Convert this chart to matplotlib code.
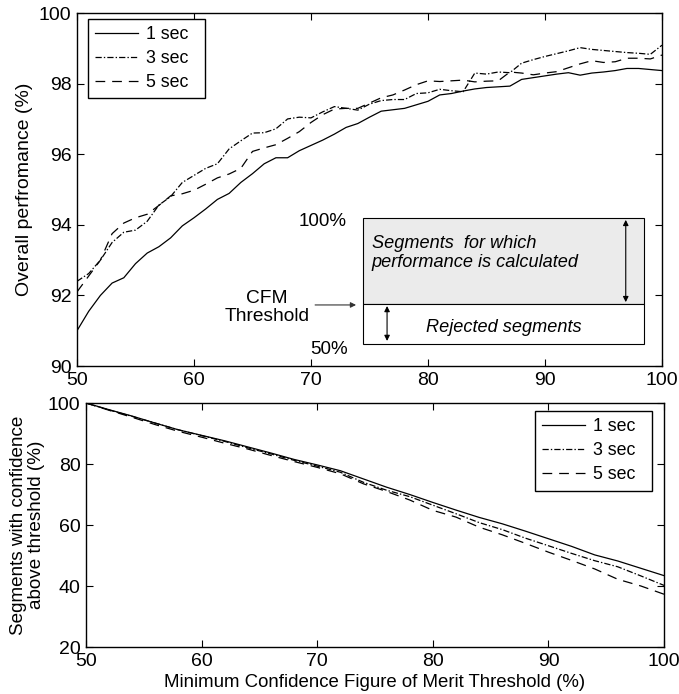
import numpy as np
import matplotlib
matplotlib.use("Agg")
import matplotlib.pyplot as plt

plt.rcParams['font.family'] = ['Liberation Sans', 'DejaVu Sans']
plt.rcParams['font.size'] = 13
plt.rcParams['lines.scale_dashes'] = False

# ---- top panel: overall performance vs CFM threshold
thr_top = np.arange(50, 101, 1)
perf_1s = [91.0, 91.55, 92.0, 92.35, 92.5, 92.9, 93.2, 93.38, 93.63, 93.97,
           94.2, 94.45, 94.72, 94.89, 95.2, 95.45, 95.73, 95.9, 95.9, 96.1,
           96.25, 96.4, 96.57, 96.76, 96.87, 97.05, 97.22, 97.26, 97.3, 97.4,
           97.5, 97.68, 97.72, 97.79, 97.85, 97.89, 97.91, 97.93, 98.12, 98.17,
           98.22, 98.27, 98.31, 98.24, 98.3, 98.33, 98.37, 98.43, 98.43, 98.4,
           98.37]
perf_3s = [92.4, 92.62, 93.0, 93.5, 93.79, 93.85, 94.1, 94.56, 94.8, 95.2,
           95.4, 95.6, 95.73, 96.15, 96.38, 96.6, 96.61, 96.72, 97.0, 97.05,
           97.03, 97.2, 97.35, 97.3, 97.25, 97.42, 97.52, 97.55, 97.55, 97.72,
           97.74, 97.84, 97.8, 97.77, 98.3, 98.27, 98.33, 98.31, 98.58, 98.68,
           98.77, 98.85, 98.93, 99.02, 98.97, 98.94, 98.91, 98.88, 98.86, 98.83,
           99.09]
perf_5s = [92.1, 92.55, 93.0, 93.75, 94.05, 94.2, 94.3, 94.55, 94.82, 94.88,
           94.98, 95.15, 95.33, 95.44, 95.6, 96.08, 96.18, 96.27, 96.45, 96.64,
           96.9, 97.12, 97.28, 97.3, 97.3, 97.45, 97.6, 97.68, 97.82, 97.97,
           98.08, 98.06, 98.08, 98.1, 98.05, 98.07, 98.08, 98.33, 98.3, 98.25,
           98.3, 98.34, 98.45, 98.56, 98.65, 98.6, 98.62, 98.72, 98.72, 98.7,
           98.81]

# ---- bottom panel: segments kept vs CFM threshold
thr_bot = np.arange(50, 101, 2)
kept_1s = [100, 97.8, 95.7, 93.4, 91.2, 89.4, 87.6, 85.6, 83.6, 81.5, 79.7,
           77.8, 75.1, 72.4, 70.0, 67.4, 64.9, 62.5, 60.4, 58.0, 55.5, 53.0,
           50.2, 48.2, 45.8, 43.4]
kept_3s = [100, 97.7, 95.6, 93.4, 91.2, 89.3, 87.4, 85.3, 83.3, 81.2, 79.3,
           77.3, 74.0, 71.4, 69.3, 66.5, 63.7, 60.8, 58.5, 55.7, 53.2, 50.7,
           48.3, 46.3, 43.3, 40.2]
kept_5s = [100, 97.6, 95.3, 92.9, 90.7, 88.8, 86.8, 84.9, 82.8, 80.8, 78.9,
           76.8, 73.5, 71.0, 68.2, 64.8, 62.6, 59.3, 56.8, 54.0, 51.1, 48.4,
           45.6, 42.2, 40.0, 37.3]

# trailing spaces give the roomy MATLAB-style legend box
labels = ['1 sec  ', '3 sec  ', '5 sec  ']
styles = [dict(ls='-'), dict(ls=(0, (4.5, 1.5, 1, 1.5))), dict(ls=(0, (7, 5)))]

fig = plt.figure(figsize=(6.79, 6.94), dpi=100)
ax1 = fig.add_axes([0.1134, 0.4726, 0.8616, 0.5086])
ax2 = fig.add_axes([0.1267, 0.0677, 0.8513, 0.3516])


def matlab_axes(ax):
    for s in ax.spines.values():
        s.set_linewidth(1.0)
    ax.tick_params(direction='in', top=True, right=True, length=5,
                   width=0.8, pad=4, labelsize=14)


def matlab_legend(ax, **kw):
    lg = ax.legend(borderaxespad=0, fancybox=False, edgecolor='k',
                   framealpha=1, handlelength=2.4, handletextpad=0.45,
                   labelspacing=0.4, borderpad=0.4, fontsize=12.8, **kw)
    lg.get_frame().set_linewidth(1.0)
    return lg


for y, lab, st in zip([perf_1s, perf_3s, perf_5s], labels, styles):
    ax1.plot(thr_top, y, color='k', lw=0.9, label=lab, **st)
ax1.set_xlim(50, 100)
ax1.set_ylim(90, 100)
ax1.set_xticks(np.arange(50, 101, 10))
ax1.set_yticks(np.arange(90, 101, 2))
ax1.set_ylabel('Overall perfromance (%)', fontsize=14, labelpad=4)
matlab_axes(ax1)
matlab_legend(ax1, loc='upper left', bbox_to_anchor=(0.019, 0.983))

# schematic of rejected / kept segments
tr = ax1.transAxes
ax1.add_patch(plt.Rectangle((0.489, 0.176), 0.48, 0.242, transform=tr,
                            facecolor='#ebebeb', edgecolor='k', lw=0.8))
ax1.add_patch(plt.Rectangle((0.489, 0.061), 0.48, 0.115, transform=tr,
                            facecolor='white', edgecolor='k', lw=0.8))
ax1.text(0.504, 0.32, 'Segments  for which\nperformance is calculated',
         transform=tr, style='italic', fontsize=13.1, va='center', ha='left',
         linespacing=1.15)
ax1.text(0.73, 0.11, 'Rejected segments', transform=tr, style='italic',
         fontsize=13.1, va='center', ha='center')
ax1.annotate('', xy=(0.938, 0.414), xytext=(0.938, 0.181), xycoords=tr,
             arrowprops=dict(arrowstyle='<|-|>', color='k', lw=0.8,
                             mutation_scale=8, shrinkA=0, shrinkB=0))
ax1.annotate('', xy=(0.53, 0.17), xytext=(0.53, 0.071), xycoords=tr,
             arrowprops=dict(arrowstyle='<|-|>', color='k', lw=0.8,
                             mutation_scale=8, shrinkA=0, shrinkB=0))
ax1.text(0.4615, 0.409, '100%', transform=tr, ha='right', va='center', fontsize=13.5)
ax1.text(0.463, 0.048, '50%', transform=tr, ha='right', va='center', fontsize=13.5)
ax1.text(0.325, 0.166, 'CFM\nThreshold', transform=tr, ha='center',
         va='center', fontsize=13.8, linespacing=1.1)
ax1.annotate('', xy=(0.477, 0.173), xytext=(0.407, 0.173), xycoords=tr,
             arrowprops=dict(arrowstyle='-|>', color='#333333', lw=0.8,
                             mutation_scale=8, shrinkA=0, shrinkB=0))

for y, lab, st in zip([kept_1s, kept_3s, kept_5s], labels, styles):
    ax2.plot(thr_bot, y, color='k', lw=0.9, label=lab, **st)
ax2.set_xlim(50, 100)
ax2.set_ylim(20, 100)
ax2.set_xticks(np.arange(50, 101, 10))
ax2.set_yticks(np.arange(20, 101, 20))
ax2.set_xlabel('Minimum Confidence Figure of Merit Threshold (%)', fontsize=13.4,
               labelpad=3)
ax2.set_ylabel('Segments with confidence\nabove threshold (%)', fontsize=13.6,
               linespacing=1.05, labelpad=2)
matlab_axes(ax2)
matlab_legend(ax2, loc='upper right', bbox_to_anchor=(0.979, 0.967))

fig.savefig('out.png', dpi=100)
